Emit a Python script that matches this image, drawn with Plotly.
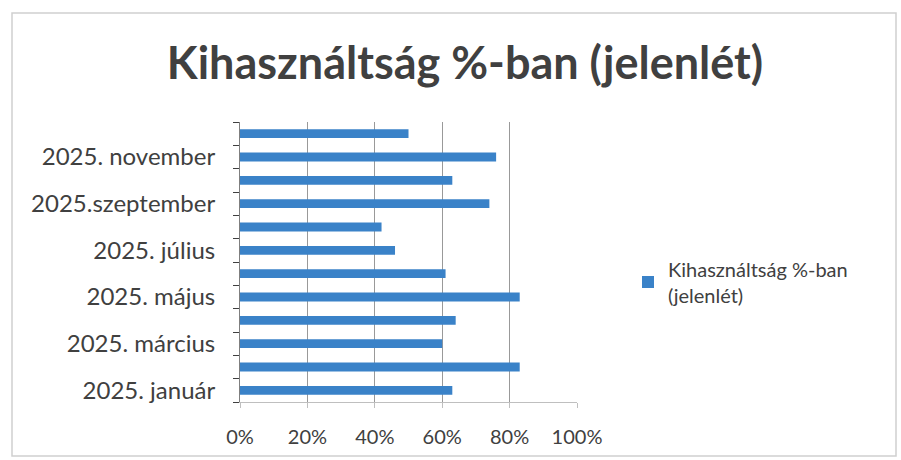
import plotly.graph_objects as go

months = ["2025. január", "2025. február", "2025. március", "2025. április",
          "2025. május", "2025. június", "2025. július", "2025. augusztus",
          "2025.szeptember", "2025. október", "2025. november", "2025. december"]
values = [63, 83, 60, 64, 83, 61, 46, 42, 74, 63, 76, 50]
label_idx = [0, 2, 4, 6, 8, 10]
x_ticks = [0, 20, 40, 60, 80, 100]
x_ticktext = ["0%", "20%", "40%", "60%", "80%", "100%"]
series_name = "Kihasználtság %-ban<br>(jelenlét)"
title = "Kihasználtság %-ban (jelenlét)"

W, H = 901, 460
L, R, T, B = 240, 577, 122, 402

ypos = list(range(len(months)))

fig = go.Figure()
fig.add_trace(go.Bar(
    y=ypos, x=values, orientation="h", name=series_name,
    marker=dict(color="#3a82c8", line=dict(width=0)), width=0.38,
    showlegend=True,
))

font_family = "Lato, 'Open Sans', sans-serif"

fig.update_layout(
    width=W, height=H,
    margin=dict(l=L, r=W - R, t=T, b=H - B),
    paper_bgcolor="white", plot_bgcolor="white",
    title=dict(text="<b>" + title + "</b>", x=465 / W, xanchor="center",
               y=1 - 63 / H, yanchor="middle",
               font=dict(family=font_family, size=45, color="#404040")),
    xaxis=dict(range=[0, 100], tickvals=x_ticks, ticktext=x_ticktext,
               showgrid=True, gridcolor="#999999", gridwidth=1,
               zeroline=False, showline=True, linecolor="#bfbfbf", linewidth=1,
               ticks="outside", ticklen=5, tickcolor="#bfbfbf",
               ticklabelstandoff=12,
               tickfont=dict(family=font_family, size=20, color="#404040"),
               fixedrange=True),
    yaxis=dict(range=[-0.5, len(months) - 0.5],
               tickvals=label_idx, ticktext=[months[i] for i in label_idx],
               ticks="", showgrid=False, zeroline=False,
               showline=True, linecolor="#7f7f7f", linewidth=1,
               minor=dict(tickvals=[i - 0.5 for i in range(len(months) + 1)],
                          ticks="outside", ticklen=6, tickcolor="#404040", showgrid=False),
               ticklabelstandoff=19,
               tickfont=dict(family=font_family, size=24, color="#404040"),
               fixedrange=True),
    legend=dict(x=(628 - L) / (R - L), xanchor="left",
                y=(B - 282) / (B - T), yanchor="middle",
                font=dict(family=font_family, size=20, color="#404040"),
                bgcolor="rgba(0,0,0,0)", itemwidth=30),
    bargap=0.6,
)

# outer chart frame
fig.add_shape(type="rect", xref="paper", yref="paper",
              x0=(12 - L) / (R - L), x1=(896 - L) / (R - L),
              y0=(B - 456) / (B - T), y1=(B - 13) / (B - T),
              line=dict(color="#d0d0d0", width=1.5), layer="below")

fig.write_html("out.html", config={"displayModeBar": False},
               post_script="document.body.style.margin='0';")
